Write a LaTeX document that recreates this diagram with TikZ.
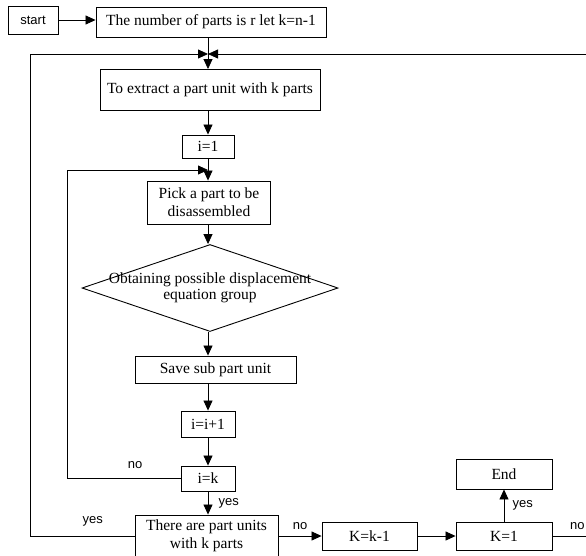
\documentclass[tikz,border=0pt]{standalone}
\usepackage{fontspec}
\setmainfont{Liberation Serif}
\setsansfont{Liberation Sans}
\usetikzlibrary{arrows.meta, shapes.geometric}

\begin{document}
\begin{tikzpicture}[
	x=1pt, y=-1pt,
	b/.style = {rectangle, draw, line width=0.9pt, inner sep=0pt, align=center, font=\fontsize{15.5}{18}\selectfont},
	d/.style = {diamond, draw, line width=0.9pt, inner sep=0pt, font=\fontsize{15.5}{18}\selectfont},
	r/.style = {-{Triangle[length=10pt, width=9pt]}, line width=0.8pt},
	l/.style = {font=\sffamily\fontsize{13}{15}\selectfont}
	]
	\useasboundingbox (0, 0) rectangle (586, 555);
	\clip (0, 0) rectangle (586, 555);
	
	% ===== ===== ===== ===== =====
	
	% Nodes
	\node[b, l, minimum width=50, minimum height=28]	(start)	at	(33, 20)	{start};
	\node[b, minimum width=230, minimum height=30]	(top)	at	(211, 22)	{The number of parts is r let k=n-1};
	\node[b, minimum width=220, minimum height=41]	(extract)	at	(210, 90)	{To extract a part unit with k parts};
	\node[b, minimum width=52, minimum height=23]	(i1)	at	(208, 146.5)	{i=1};
	\node[b, minimum width=123, minimum height=43]	(pick)	at	(209, 202.5)	{Pick a part to be\\disassembled};
	\node[d, minimum width=256, minimum height=87]	(obt)	at	(210, 288)	{\makebox[0pt]{\begin{tabular}{@{}c@{}}Obtaining possible displacement\\[-2pt]equation group\end{tabular}}};
	\node[b, minimum width=161, minimum height=27]	(save)	at	(215.5, 369.5)	{Save sub part unit};
	\node[b, minimum width=54, minimum height=26]	(inc)	at	(208, 424)	{i=i+1};
	\node[b, minimum width=54, minimum height=25]	(ik)	at	(208, 478.5)	{i=k};
	\node[b, minimum width=143, minimum height=42]	(there)	at	(206.5, 536)	{There are part units\\with k parts};
	\node[b, minimum width=95, minimum height=28]	(kdec)	at	(369.5, 536)	{K=k-1};
	\node[b, minimum width=96, minimum height=28]	(kone)	at	(504, 536)	{K=1};
	\node[b, minimum width=96, minimum height=30]	(fin)	at	(504, 474)	{End};
	
	\coordinate	(m1)	at	(208, 54);
	\coordinate	(m2)	at	(208, 170);
	\coordinate	(lc)	at	(30, 54);
	\coordinate	(rc)	at	(594, 54);
	\coordinate	(lp)	at	(67, 170);
	
	
	
	% Lines
	\draw[r]	(start.east)	--	(start.east -| top.west);
	\draw[r]	(top.south -| m1)	--	(extract.north -| m1);
	\draw[r]	(extract.south -| m1)	--	(i1.north);
	\draw[r]	(i1.south)	--	(pick.north -| i1.south);
	\draw[r]	(pick.south -| i1.south)	--	(obt.north -| i1.south);
	\draw[r]	(obt.south -| i1.south)	--	(save.north -| i1.south);
	\draw[r]	(save.south -| i1.south)	--	(inc.north);
	\draw[r]	(inc.south)	--	(ik.north);
	\draw[r]	(ik.south)	--	node[l, right=7pt]	{yes}	(there.north -| ik.south);
	\draw[r]	(there.east)	--	node[l, above=3pt]	{no}	(kdec.west);
	\draw[r]	(kdec.east)	--	(kone.west);
	\draw[r]	(kone.north)	--	node[l, right=5pt]	{yes}	(fin.south);
	
	
	
	% ===== ===== ===== ===== =====
	
	% Loops back
	\draw[r]	(ik.west)	-|	node[l, above=6pt, pos=0.2]	{no}	(lp)	--	(m2);
	\draw[r]	(there.west)	-|	node[l, above=6pt, pos=0.2]	{yes}	(lc)	--	(m1);
	\draw[r]	(kone.east)	-|	node[l, above=3pt, pos=0.3]	{no}	(rc)	--	(m1);
	
\end{tikzpicture}
\end{document}
